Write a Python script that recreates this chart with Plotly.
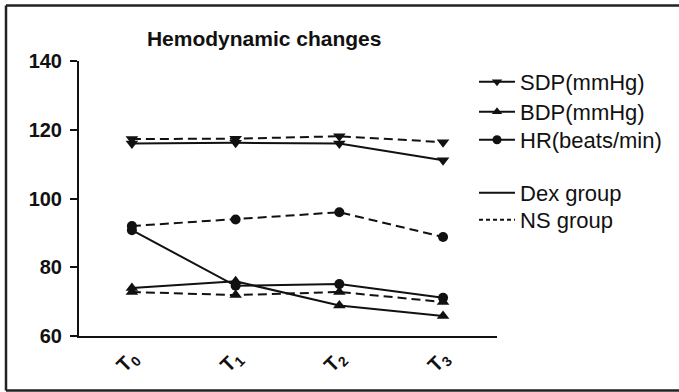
import plotly.graph_objects as go

categories = ["T<sub>0</sub>", "T<sub>1</sub>", "T<sub>2</sub>", "T<sub>3</sub>"]
sdp_dex = [116, 116.2, 116, 111.1]
sdp_ns = [117.3, 117.4, 118.1, 116.4]
bdp_dex = [74, 75.9, 68.9, 65.8]
bdp_ns = [72.8, 71.9, 72.8, 69.9]
hr_dex = [90.8, 74.6, 75.1, 71.1]
hr_ns = [92.0, 93.9, 96.0, 88.8]
y_ticks = [60, 80, 100, 120, 140]

INK = "#111111"
FONT = "Liberation Sans"
DASH = "9px,5px"

series = [
    (sdp_dex, "solid", "triangle-down"),
    (sdp_ns, DASH, "triangle-down"),
    (bdp_dex, "solid", "triangle-up"),
    (bdp_ns, DASH, "triangle-up"),
    (hr_dex, "solid", "circle"),
    (hr_ns, DASH, "circle"),
]

xs = list(range(len(categories)))
fig = go.Figure()
for vals, dash, sym in series:
    fig.add_trace(go.Scatter(
        x=xs, y=vals, mode="lines+markers", showlegend=False,
        line=dict(color=INK, width=2, dash=dash),
        marker=dict(symbol=sym, size=11 if sym != "circle" else 10, color=INK),
    ))

# legend entries: (name, marker symbol or None, dash, row centre in px from top)
legend_items = [
    ("SDP(mmHg)", "triangle-down", "solid", 82),
    ("BDP(mmHg)", "triangle-up", "solid", 112),
    ("HR(beats/min)", "circle", "solid", 140),
    ("Dex group", None, "solid", 193),
    ("NS group", None, "4px,3px", 220),
]

PLOT_TOP, PLOT_BOTTOM = 61, 336
PLOT_LEFT, PLOT_RIGHT = 79, 497
PW, PH = PLOT_RIGHT - PLOT_LEFT, PLOT_BOTTOM - PLOT_TOP
legend_layout = {}
for i, (name, sym, dash, yc) in enumerate(legend_items):
    key = "legend" if i == 0 else f"legend{i + 1}"
    tr = dict(x=[None], y=[None], name=name, legend=key,
              line=dict(color=INK, width=2, dash=dash))
    if sym:
        tr.update(mode="lines+markers", marker=dict(symbol=sym, size=9, color=INK))
    else:
        tr.update(mode="lines")
    fig.add_trace(go.Scatter(**tr))
    legend_layout[key] = dict(
        x=0.945, y=(PLOT_BOTTOM - yc) / PH,
        xanchor="left", yanchor="middle",
        font=dict(size=22, family=FONT, color=INK), bgcolor="rgba(0,0,0,0)",
        itemwidth=36,
    )

fig.update_layout(
    width=679, height=392,
    margin=dict(l=PLOT_LEFT, r=679 - PLOT_RIGHT, t=PLOT_TOP, b=392 - PLOT_BOTTOM),
    paper_bgcolor="white", plot_bgcolor="white",
    font=dict(family=FONT, color=INK),
    title=dict(text="Hemodynamic changes", x=0.443, xref="paper", xanchor="center",
               y=1 - 39 / 392, yref="container", yanchor="middle",
               font=dict(size=21, weight="bold", family=FONT, color=INK)),
    xaxis=dict(range=[-0.51, 3.52], tickvals=xs, ticktext=categories, tickangle=-45,
               showline=True, linecolor=INK, linewidth=2, showgrid=False, zeroline=False,
               ticks="", tickfont=dict(size=20, weight="bold", family=FONT, color=INK)),
    yaxis=dict(range=[60, 140], tickvals=y_ticks, showline=True, linecolor=INK, linewidth=2,
               showgrid=False, zeroline=False, ticks="outside", ticklen=7, tickwidth=2,
               tickcolor=INK, ticklabelstandoff=4,
               tickfont=dict(size=20, weight="bold", family=FONT, color=INK)),
    **legend_layout,
)

# outer frame of the picture (left, top and bottom edges; right edge is cut off)
fx0, fx1 = (6 - PLOT_LEFT) / PW, (679 - PLOT_LEFT) / PW
fy0, fy1 = (PLOT_BOTTOM - 390.5) / PH, (PLOT_BOTTOM - 5.5) / PH
frame = dict(type="line", xref="paper", yref="paper",
             line=dict(color="#222222", width=2.5), layer="below")
fig.add_shape(x0=fx0, x1=fx0, y0=fy0, y1=fy1, **frame)
fig.add_shape(x0=fx0, x1=fx1, y0=fy1, y1=fy1, **frame)
fig.add_shape(x0=fx0, x1=fx1, y0=fy0, y1=fy0, **frame)

fig.write_html(
    "out.html", config={"displayModeBar": False},
    post_script="document.body.style.margin='0';document.body.style.overflow='hidden';"
                "document.documentElement.style.overflow='hidden';",
)
